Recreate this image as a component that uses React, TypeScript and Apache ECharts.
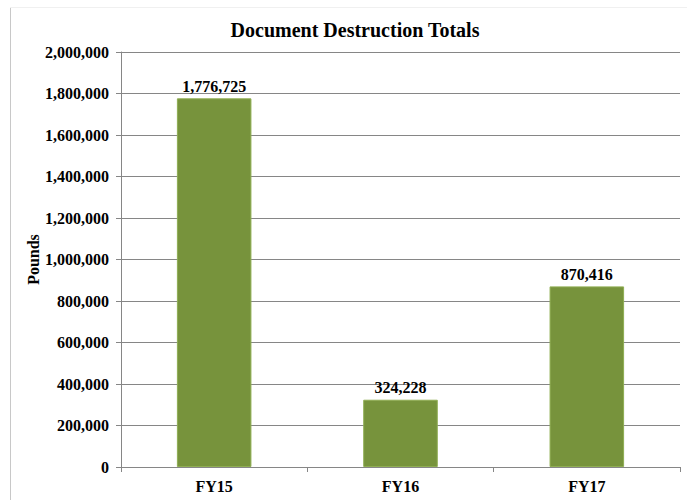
import React, { useEffect, useRef } from "react";
import * as echarts from "echarts";

const categories = ["FY15", "FY16", "FY17"];
const pounds = [1776725, 324228, 870416];
const titleText = "Document Destruction Totals";
const yAxisName = "Pounds";

const fmt = (v: number) => v.toLocaleString("en-US");

export default function App() {
  const ref = useRef<HTMLDivElement>(null);
  useEffect(() => {
    if (!ref.current) return;
    const chart = echarts.init(ref.current, undefined, { renderer: "svg" });
    const font = "'Liberation Serif', 'Times New Roman', serif";
    chart.setOption({
      animation: false,
      backgroundColor: "#ffffff",
      title: {
        text: titleText,
        left: 350,
        top: 15,
        textAlign: "center",
        textStyle: { fontFamily: font, fontWeight: "bold", fontSize: 20, color: "#000" },
      },
      grid: { left: 121, right: 7, top: 52, bottom: 33, containLabel: false },
      xAxis: {
        type: "category",
        data: categories,
        axisLine: { lineStyle: { color: "#868686", width: 1 } },
        axisTick: { show: true, alignWithLabel: false, length: 5, lineStyle: { color: "#868686" } },
        axisLabel: { fontFamily: font, fontWeight: "bold", fontSize: 16, color: "#000", margin: 11 },
      },
      yAxis: {
        type: "value",
        min: 0,
        max: 2000000,
        interval: 200000,
        name: yAxisName,
        nameLocation: "middle",
        nameGap: 80,
        nameMoveOverlap: false,
        nameTextStyle: { fontFamily: font, fontWeight: "bold", fontSize: 16, color: "#000" },
        axisLine: { show: true, lineStyle: { color: "#868686" } },
        axisTick: { show: true, length: 5, lineStyle: { color: "#868686" } },
        axisLabel: {
          fontFamily: font,
          fontWeight: "bold",
          fontSize: 16,
          color: "#000",
          margin: 12,
          formatter: (v: number) => fmt(v),
        },
        splitLine: { show: true, lineStyle: { color: "#868686", width: 1 } },
      },
      series: [
        {
          type: "bar",
          data: pounds,
          barWidth: "40%",
          itemStyle: { color: "#77933C", borderColor: "#8fae52", borderWidth: 1 },
          label: {
            show: true,
            position: "top",
            distance: 4,
            fontFamily: font,
            fontWeight: "bold",
            fontSize: 16,
            color: "#000",
            formatter: (p: any) => fmt(p.value),
          },
        },
      ],
      graphic: [
        { type: "line", shape: { x1: 10.5, y1: 7, x2: 10.5, y2: 500 }, style: { stroke: "#c8c8c8", lineWidth: 1 } },
        { type: "line", shape: { x1: 10, y1: 7.5, x2: 687, y2: 7.5 }, style: { stroke: "#f0f0f0", lineWidth: 1 } },
      ],
    });
    return () => chart.dispose();
  }, []);
  return (
    <div
      ref={ref}
      style={{ position: "absolute", left: 0, top: 0, width: 687, height: 500 }}
    />
  );
}
